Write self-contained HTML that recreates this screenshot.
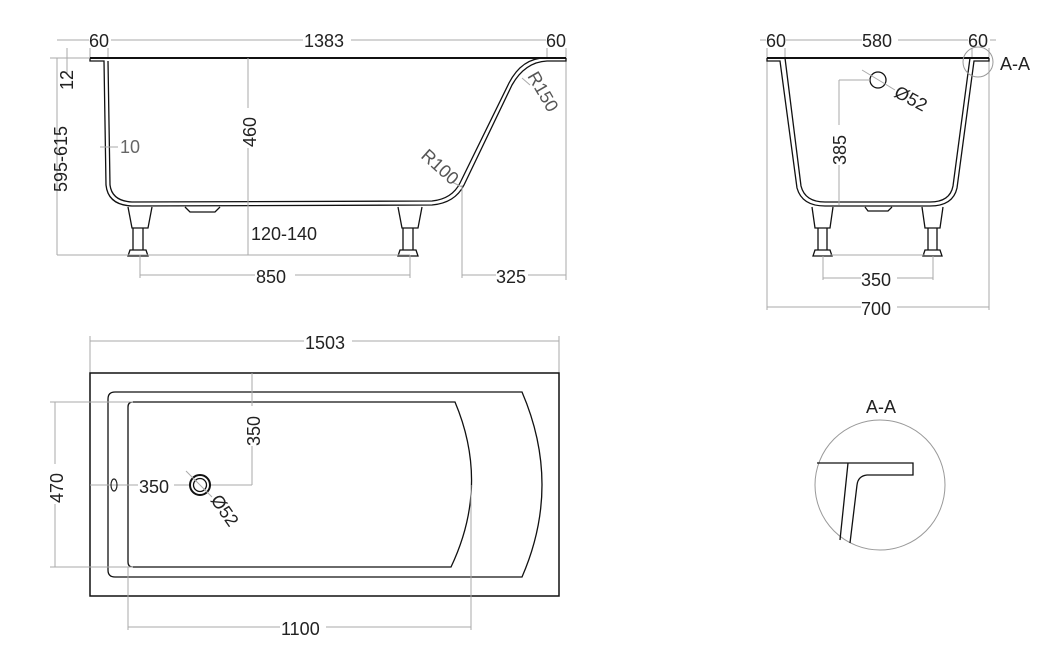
<!DOCTYPE html>
<html><head><meta charset="utf-8"><style>
html,body{margin:0;padding:0;background:#fff}
svg{display:block}
text{font-family:"Liberation Sans",sans-serif;font-size:18px;fill:#222}
.d{stroke:#aaa;stroke-width:1;fill:none}
.k{stroke:#111;stroke-width:2;fill:none}
.t{stroke:#111;stroke-width:1.3;fill:none}
</style></head><body>
<svg width="1049" height="650" viewBox="0 0 1049 650" xmlns="http://www.w3.org/2000/svg">
<!-- SIDE VIEW -->
<g>
<line class="d" x1="57" y1="40" x2="566" y2="40"/>
<line class="d" x1="90" y1="40" x2="90" y2="58"/><line class="d" x1="108" y1="36" x2="108" y2="58"/>
<line class="d" x1="547" y1="36" x2="547" y2="58"/><line class="d" x1="566" y1="36" x2="566" y2="280"/>
<rect x="89" y="30" width="22" height="18" fill="#fff"/><text x="89" y="47">60</text>
<rect x="303" y="30" width="48" height="18" fill="#fff"/><text x="304" y="47">1383</text>
<rect x="546" y="30" width="22" height="18" fill="#fff"/><text x="546" y="47">60</text>
<line class="k" x1="90" y1="58" x2="566" y2="58"/>
<path class="t" d="M90 58 L90 61 L104 61 L106 185 Q108 205 132 206 L432 205 Q455 203 464 185 L512 85 Q525 62 547 61 L566 61 L566 58"/>
<path class="t" d="M108 61 L110 185 Q112 201 132 202 L432 201 Q452 199 460 183 L509 83 Q522 58 545 58"/>
<path class="t" d="M185 207 L190 212 L215 212 L220 207"/>
<path class="t" d="M128 207 L132 228 L148 228 L152 207"/>
<path class="t" d="M133 228 L133 250 M143 228 L143 250 M130 250 L146 250 L148 256 L128 256 Z"/>
<path class="t" d="M398 207 L402 228 L418 228 L422 207"/>
<path class="t" d="M403 228 L403 250 M413 228 L413 250 M400 250 L416 250 L418 256 L398 256 Z"/>
<line class="d" x1="57" y1="255" x2="410" y2="255"/>
<line class="d" x1="57" y1="58" x2="57" y2="255"/>
<line class="d" x1="50" y1="58" x2="90" y2="58"/>
<line class="d" x1="67" y1="48" x2="67" y2="75"/>
<text transform="translate(73,90) rotate(-90)" font-size="16">12</text>
<text transform="translate(67,192) rotate(-90)">595-615</text>
<line class="d" x1="100" y1="147" x2="118" y2="147"/>
<text x="120" y="153" font-size="17" style="fill:#666">10</text>
<line class="d" x1="248" y1="58" x2="248" y2="255"/>
<rect x="238" y="108" width="20" height="40" fill="#fff"/>
<text transform="translate(256,147) rotate(-90)">460</text>
<text x="251" y="240" font-size="19">120-140</text>
<line class="d" x1="140" y1="255" x2="140" y2="278"/><line class="d" x1="410" y1="255" x2="410" y2="278"/>
<line class="d" x1="140" y1="275" x2="410" y2="275"/>
<rect x="255" y="266" width="40" height="18" fill="#fff"/><text x="256" y="283">850</text>
<line class="d" x1="462" y1="185" x2="462" y2="278"/>
<line class="d" x1="462" y1="275" x2="566" y2="275"/>
<rect x="496" y="266" width="32" height="18" fill="#fff"/><text x="496" y="283">325</text>
<line class="d" x1="522" y1="78" x2="530" y2="85"/>
<text transform="translate(527,76) rotate(60)" font-size="17" style="fill:#555">R150</text>
<line class="d" x1="452" y1="182" x2="462" y2="187"/>
<text transform="translate(420,157) rotate(42)" font-size="17" style="fill:#555">R100</text>
</g>
<!-- END VIEW -->
<g>
<line class="d" x1="760" y1="40" x2="996" y2="40"/>
<line class="d" x1="767" y1="36" x2="767" y2="310"/><line class="d" x1="785" y1="36" x2="785" y2="58"/>
<line class="d" x1="972" y1="36" x2="972" y2="58"/><line class="d" x1="989" y1="36" x2="989" y2="310"/>
<rect x="766" y="30" width="20" height="18" fill="#fff"/><text x="766" y="47">60</text>
<rect x="862" y="30" width="36" height="18" fill="#fff"/><text x="862" y="47">580</text>
<rect x="968" y="30" width="22" height="18" fill="#fff"/><text x="968" y="47">60</text>
<line class="k" x1="767" y1="58" x2="989" y2="58"/>
<path class="t" d="M767 58 L767 61 L780 61 L797 188 Q802 206 825 206 L930 206 Q953 206 957 188 L974 61 L989 61 L989 58"/>
<path class="t" d="M785 58 L801 186 Q805 202 825 202 L930 202 Q950 202 953 186 L970 58"/>
<path class="t" d="M865 207 L868 211 L888 211 L892 207"/>
<path class="t" d="M812 207 L815 228 L830 228 L833 207"/>
<path class="t" d="M818 228 L818 250 M827 228 L827 250 M815 250 L830 250 L832 256 L813 256 Z"/>
<path class="t" d="M922 207 L925 228 L940 228 L943 207"/>
<path class="t" d="M928 228 L928 250 M937 228 L937 250 M925 250 L940 250 L942 256 L923 256 Z"/>
<line class="d" x1="830" y1="255" x2="925" y2="255"/>
<circle cx="978" cy="62" r="15" fill="none" stroke="#999" stroke-width="1"/>
<text x="1000" y="70" font-size="17">A-A</text>
<circle cx="878" cy="80" r="8" fill="none" stroke="#111" stroke-width="1.3"/>
<line class="d" x1="862" y1="70" x2="895" y2="90"/>
<text transform="translate(893,96) rotate(28)">Ø52</text>
<line class="d" x1="839" y1="80" x2="870" y2="80"/>
<line class="d" x1="839" y1="80" x2="839" y2="205"/>
<rect x="830" y="125" width="18" height="40" fill="#fff"/>
<text transform="translate(846,165) rotate(-90)">385</text>
<line class="d" x1="823" y1="256" x2="823" y2="280"/><line class="d" x1="933" y1="256" x2="933" y2="280"/>
<line class="d" x1="823" y1="278" x2="933" y2="278"/>
<rect x="861" y="269" width="36" height="18" fill="#fff"/><text x="861" y="286">350</text>
<line class="d" x1="767" y1="307" x2="989" y2="307"/>
<rect x="861" y="298" width="36" height="18" fill="#fff"/><text x="861" y="315">700</text>
</g>
<!-- PLAN VIEW -->
<g>
<line class="d" x1="90" y1="336" x2="90" y2="373"/><line class="d" x1="559" y1="336" x2="559" y2="373"/>
<line class="d" x1="90" y1="341" x2="559" y2="341"/>
<rect x="304" y="332" width="48" height="18" fill="#fff"/><text x="305" y="349">1503</text>
<rect x="90" y="373" width="469" height="223" fill="none" stroke="#111" stroke-width="1.5"/>
<path class="t" d="M115 392 L522 392 Q562 485 522 577 L115 577 Q108 577 108 570 L108 399 Q108 392 115 392 Z"/>
<path class="t" d="M133 402 L455 402 Q490 485 451 567 L133 567 Q128 567 128 562 L128 407 Q128 402 133 402 Z"/>
<line class="d" x1="50" y1="402" x2="133" y2="402"/><line class="d" x1="50" y1="567" x2="133" y2="567"/>
<line class="d" x1="55" y1="402" x2="55" y2="567"/>
<rect x="46" y="464" width="18" height="40" fill="#fff"/>
<text transform="translate(63,503) rotate(-90)">470</text>
<line class="d" x1="252" y1="373" x2="252" y2="485"/>
<rect x="243" y="406" width="18" height="40" fill="#fff"/>
<text transform="translate(260,446) rotate(-90)">350</text>
<line class="d" x1="90" y1="485" x2="252" y2="485"/>
<ellipse cx="114" cy="485" rx="3" ry="6" fill="none" stroke="#222" stroke-width="1.2"/>
<rect x="138" y="476" width="36" height="18" fill="#fff"/><text x="139" y="493">350</text>
<circle cx="200" cy="485" r="10" fill="#fff" stroke="#111" stroke-width="2"/>
<circle cx="200" cy="485" r="6.5" fill="none" stroke="#111" stroke-width="1.3"/>
<line class="d" x1="186" y1="471" x2="212" y2="497"/>
<text transform="translate(210,500) rotate(55)">Ø52</text>
<line class="d" x1="128" y1="567" x2="128" y2="630"/><line class="d" x1="471" y1="485" x2="471" y2="630"/>
<line class="d" x1="128" y1="627" x2="471" y2="627"/>
<rect x="280" y="618" width="46" height="18" fill="#fff"/><text x="281" y="635">1100</text>
</g>
<!-- DETAIL A-A -->
<g>
<text x="866" y="413" font-size="16">A-A</text>
<circle cx="880" cy="485" r="65" fill="none" stroke="#999" stroke-width="1"/>
<path class="t" d="M817 463 L913 463 L913 475 L867 475 Q858 476 857 485 L850 543"/>
<path class="t" d="M848 463 L840 540"/>
</g>
</svg>
</body></html>
